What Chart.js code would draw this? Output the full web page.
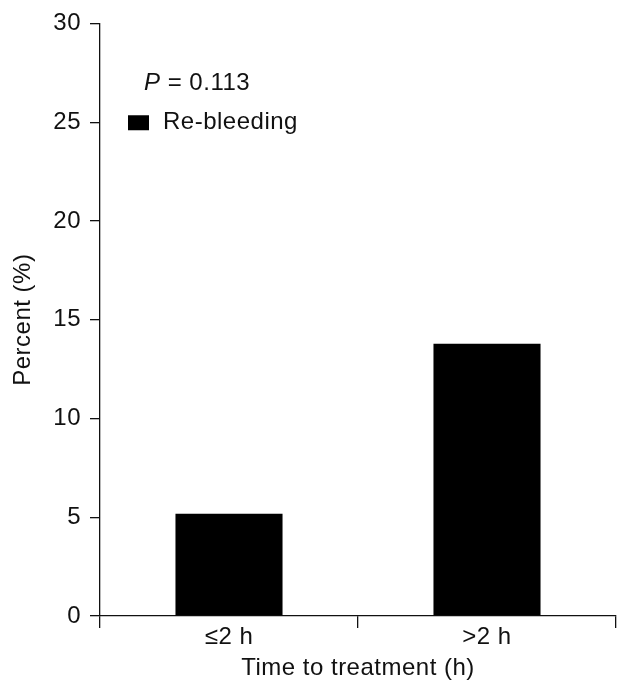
<!DOCTYPE html>
<html lang="en">
<head>
<meta charset="utf-8">
<style>
  html, body { margin: 0; padding: 0; background: #fff; }
  #wrap { width: 617px; height: 680px; }
</style>
</head>
<body>
<div id="wrap"><canvas id="myChart" width="617" height="680"></canvas></div>
<script src="https://cdn.jsdelivr.net/npm/chart.js"></script>
<script>
const categories = ['\u22642 h', '>2 h'];
const reBleeding = [5.18, 13.78];
const yTicks = [0, 5, 10, 15, 20, 25, 30];
const seriesLabel = 'Re-bleeding';
const pValueText = '0.113';

const FONT = '"Liberation Sans", Arial, Helvetica, sans-serif';
const FSIZE = 24;
const SPACING = '0.5px';
const INK = '#111';

// the original type is a bit wider than Liberation Sans, so space the letters out a little
const spacingPlugin = {
  id: 'spacing',
  beforeUpdate(chart) { chart.ctx.letterSpacing = SPACING; },
  beforeDraw(chart) { chart.ctx.letterSpacing = SPACING; }
};

// draws the P value and the legend entry inside the plot, like the original figure
const notePlugin = {
  id: 'note',
  afterDraw(chart) {
    const ctx = chart.ctx;
    const area = chart.chartArea;
    const y = chart.scales.y;
    ctx.save();
    ctx.letterSpacing = SPACING;
    ctx.fillStyle = INK;
    ctx.textBaseline = 'middle';
    ctx.textAlign = 'left';
    // P = 0.113
    const py = y.getPixelForValue(26.95);
    ctx.font = 'italic ' + FSIZE + 'px ' + FONT;
    ctx.fillText('P', area.left + 44, py);
    const pw = ctx.measureText('P').width;
    ctx.font = FSIZE + 'px ' + FONT;
    ctx.fillText(' = ' + pValueText, area.left + 44 + pw, py);
    // legend box + label
    const ly = y.getPixelForValue(24.97);
    ctx.fillStyle = '#000';
    ctx.fillRect(area.left + 28, ly - 7.5, 21, 15);
    ctx.fillStyle = INK;
    ctx.fillText(chart.data.datasets[0].label, area.left + 63, ly);
    ctx.restore();
  }
};

const data = {
  labels: categories,
  datasets: [{
    label: seriesLabel,
    data: reBleeding,
    backgroundColor: '#000',
    borderColor: '#000',
    borderWidth: 0,
    categoryPercentage: 0.83,
    barPercentage: 0.5
  }]
};

const config = {
  type: 'bar',
  data: data,
  plugins: [spacingPlugin, notePlugin],
  options: {
    responsive: false,
    animation: false,
    layout: { padding: { top: 16, right: 1, left: 0, bottom: 0 } },
    plugins: {
      legend: { display: false },
      tooltip: { enabled: false }
    },
    scales: {
      x: {
        offset: true,
        grid: {
          offset: true,
          drawOnChartArea: false,
          drawTicks: true,
          tickLength: 12,
          color: INK,
          lineWidth: 1.3
        },
        border: { display: true, color: INK, width: 1.3 },
        ticks: {
          color: INK,
          padding: 0,
          font: { family: FONT, size: FSIZE, lineHeight: 0.75 }
        },
        title: {
          display: true,
          text: 'Time to treatment (h)',
          color: INK,
          font: { family: FONT, size: FSIZE, lineHeight: 1 },
          padding: { top: 10, bottom: 0 }
        }
      },
      y: {
        min: 0,
        max: 30,
        afterBuildTicks(scale) {
          scale.ticks = yTicks.map(v => ({ value: v }));
        },
        afterFit(scale) {
          scale.width = 100;
        },
        grid: {
          drawOnChartArea: false,
          drawTicks: true,
          tickLength: 10,
          color: INK,
          lineWidth: 1.3
        },
        border: { display: true, color: INK, width: 1.3 },
        ticks: {
          color: INK,
          padding: 9,
          font: { family: FONT, size: FSIZE }
        },
        title: {
          display: true,
          text: 'Percent (%)',
          color: INK,
          font: { family: FONT, size: FSIZE },
          padding: { top: 9, bottom: 10 }
        }
      }
    }
  }
};

const myChart = new Chart(document.getElementById('myChart'), config);
</script>
</body>
</html>
